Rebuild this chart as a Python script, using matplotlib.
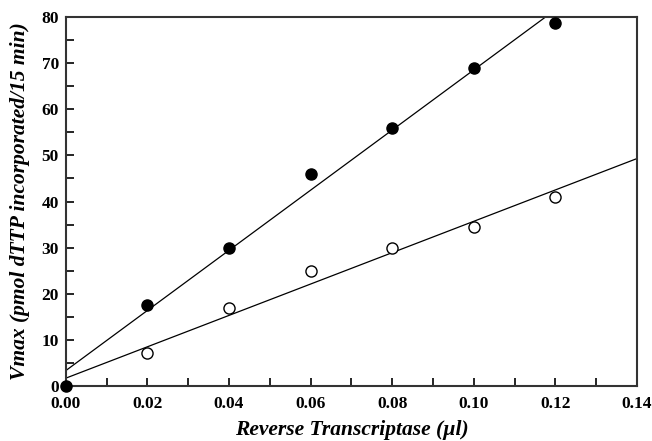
import numpy as np
import matplotlib.pyplot as plt
import matplotlib.transforms as mtransforms
from matplotlib.ticker import MultipleLocator

# data
rt = [0.0, 0.02, 0.04, 0.06, 0.08, 0.10, 0.12]
vmax_filled = [0.0, 17.5, 30.0, 46.0, 56.0, 69.0, 78.8]
vmax_open = [0.0, 7.2, 17.0, 25.0, 30.0, 34.5, 41.0]

plt.rcParams['font.family'] = ['Liberation Serif', 'DejaVu Serif']

fig = plt.figure(figsize=(6.52, 4.41), dpi=100)
ax = fig.add_axes([0.101, 0.125, 0.876, 0.836])

xfit = np.array([0.0, 0.14])
for ys in (vmax_filled, vmax_open):
    k, b = np.polyfit(rt, ys, 1)
    ax.plot(xfit, k * xfit + b, color='black', lw=0.9)

ax.plot(rt[1:], vmax_open[1:], 'o', ms=8, mfc='white', mec='black', mew=1.0, clip_on=False, zorder=3)
ax.plot(rt, vmax_filled, 'o', ms=8, color='black', clip_on=False, zorder=4)

ax.set_xlim(0, 0.14)
ax.set_ylim(0, 80)
ax.xaxis.set_major_locator(MultipleLocator(0.02))
ax.xaxis.set_minor_locator(MultipleLocator(0.01))
ax.yaxis.set_major_locator(MultipleLocator(10))
ax.yaxis.set_minor_locator(MultipleLocator(5))
ax.xaxis.set_major_formatter('{x:.2f}')
ax.tick_params(which='both', direction='in', length=6, width=1.2, labelsize=12.5)
ax.tick_params(axis='x', pad=7)
ax.tick_params(axis='y', pad=5)
ax.tick_params(top=False, right=False)
for lab in ax.get_xticklabels() + ax.get_yticklabels():
    lab.set_fontweight('bold')
# the y "0" sits a little high, as in the original, so it clears "0.00"
lift = mtransforms.ScaledTranslation(0, 3 / 72, fig.dpi_scale_trans)
ylab0 = ax.get_yticklabels()[0]
ylab0.set_transform(ylab0.get_transform() + lift)
for s in ax.spines.values():
    s.set_linewidth(1.5)
    s.set_color('#333333')

ax.set_xlabel('Reverse Transcriptase (µl)', fontsize=15.5, fontweight='bold', style='italic', labelpad=6)
ax.set_ylabel('Vmax (pmol dTTP incorporated/15 min)', fontsize=15.5, fontweight='bold', style='italic', labelpad=8)

fig.savefig('out.png', dpi=100)
